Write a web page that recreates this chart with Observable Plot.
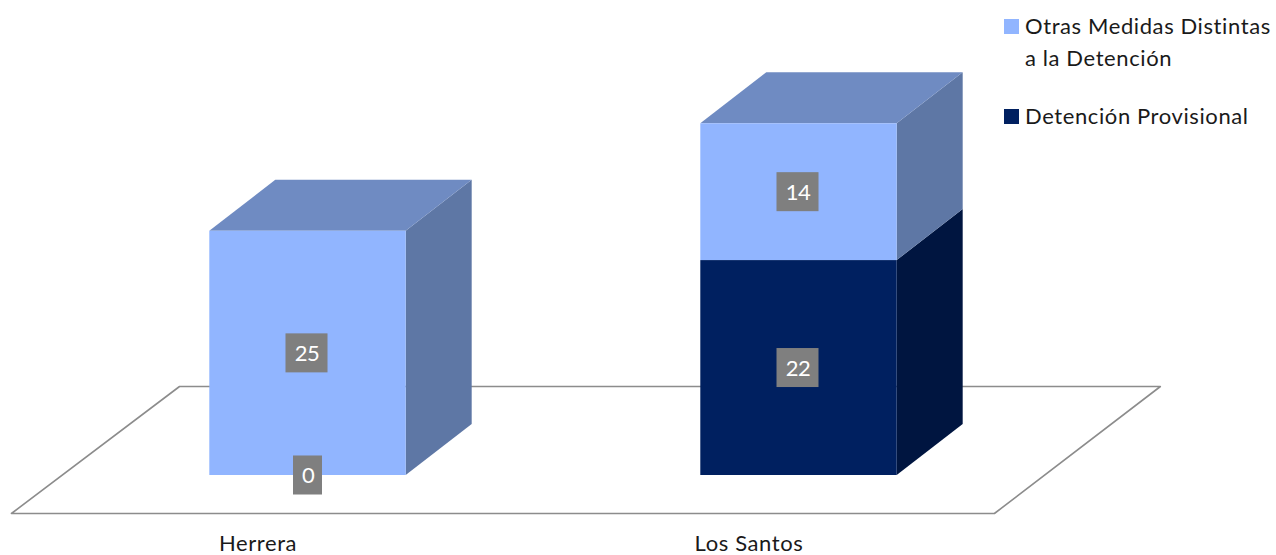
<!DOCTYPE html>
<html lang="es">
<head>
<meta charset="utf-8">
<script src="https://cdn.jsdelivr.net/npm/d3@7"></script>
<script src="https://cdn.jsdelivr.net/npm/@observablehq/plot@0.6"></script>
<style>
html,body{margin:0;padding:0;background:#fff}
#wrap{position:relative;width:1276px;height:555px;overflow:hidden;font-family:Lato,sans-serif}
#legend{position:absolute;left:0;top:0;width:1276px;height:140px;pointer-events:none;color:#1a1a1a;font-size:22px;letter-spacing:.6px}
#legend i{position:absolute;left:1004px;width:15px;height:15px}
#legend span{position:absolute;left:1025px;white-space:nowrap;line-height:26px}
#chart g[aria-label="x-axis tick label"] text{letter-spacing:.6px}
#chart g[aria-label="text"] text{letter-spacing:-.6px}
</style>
</head>
<body>
<div id="wrap">
<div id="chart"></div>
<div id="legend"></div>
</div>
<script>
const categories = ["Herrera", "Los Santos"];
const seriesNames = ["Detención Provisional", "Otras Medidas Distintas a la Detención"];
const detencion = [0, 22];
const otras = [25, 14];

const lightFront = "#91B5FF", lightSide = "#5E77A5", lightTop = "#6F8BC2";
const darkFront = "#002060", darkSide = "#001540";
const gridGrey = "#8c8c8c", boxGrey = "#7f7f7f";

// chart-space constants: x in category units, y in value units
const barHalf = 0.2, depthX = 0.1344, depthY = 5.22;
const floorX = [-0.2617, 1.736, 1.398, -0.604, -0.2617];
const floorY = [9.11, 9.11, -3.89, -3.89, 9.11];
const labelShift = v => (String(v).length > 1 ? -1 / 491 : 0);

const segments = [];
categories.forEach((c, i) => {
  if (detencion[i] > 0) segments.push({i, y0: 0, y1: detencion[i], v: detencion[i], front: darkFront, side: darkSide});
  segments.push({i, y0: detencion[i], y1: detencion[i] + otras[i], v: otras[i], front: lightFront, side: lightSide, top: true});
});
const labels = [];
categories.forEach((c, i) => {
  labels.push({i, y: detencion[i] / 2, v: detencion[i]});
  labels.push({i, y: detencion[i] + otras[i] / 2, v: otras[i]});
});

const sideRows = segments.flatMap((s, k) => [
  {k, fill: s.side, x: s.i + barHalf, y1: s.y0, y2: s.y1},
  {k, fill: s.side, x: s.i + barHalf + depthX, y1: s.y0 + depthY, y2: s.y1 + depthY}
]);
const topRows = segments.filter(s => s.top).flatMap((s, k) => [
  {k, y: s.y1, x1: s.i - barHalf, x2: s.i + barHalf},
  {k, y: s.y1 + depthY, x1: s.i - barHalf + depthX, x2: s.i + barHalf + depthX}
]);
const boxHalfX = v => (String(v).length > 1 ? 21 : 14.5) / 491;
const boxHalfY = 19.5 / 9.77;

const chart = Plot.plot({
  width: 1276,
  height: 555,
  margin: 0,
  marginBottom: 20,
  x: {type: "linear", axis: null, domain: [-307.5 / 491, (1276 - 307.5) / 491], range: [0, 1276]},
  y: {type: "linear", axis: null, domain: [-60 / 9.77, 475 / 9.77], range: [535, 0]},
  style: {fontFamily: "Lato, sans-serif", background: "#fff"},
  marks: [
    Plot.line(floorX.map((x, j) => ({x, y: floorY[j]})), {x: "x", y: "y", stroke: gridGrey, strokeWidth: 1.6}),
    Plot.areaY(sideRows, {x: "x", y1: "y1", y2: "y2", z: "k", fill: "fill"}),
    Plot.areaX(topRows, {y: "y", x1: "x1", x2: "x2", z: "k", fill: lightTop}),
    Plot.rect(segments, {
      x1: s => s.i - barHalf, x2: s => s.i + barHalf,
      y1: "y0", y2: "y1", fill: "front"
    }),
    Plot.rect(labels, {
      x1: d => d.i + labelShift(d.v) - boxHalfX(d.v), x2: d => d.i + labelShift(d.v) + boxHalfX(d.v),
      y1: d => d.y - boxHalfY, y2: d => d.y + boxHalfY, fill: boxGrey
    }),
    Plot.text(labels, {x: d => d.i + labelShift(d.v), y: "y", text: d => String(d.v), fill: "#fff", fontSize: 22, dy: 0.5}),
    Plot.axisX({
      ticks: [0, 1], tickFormat: i => categories[i], tickSize: 0, tickPadding: 0,
      label: null, fontSize: 22, dx: -50, dy: -0.5, fill: "#1a1a1a"
    })
  ]
});
document.getElementById("chart").append(chart);

const legend = document.getElementById("legend");
const addSwatch = (top, color) => {
  const el = document.createElement("i");
  el.style.top = top + "px"; el.style.background = color;
  legend.append(el);
};
const addLine = (top, text) => {
  const el = document.createElement("span");
  el.style.top = top + "px"; el.textContent = text;
  legend.append(el);
};
addSwatch(19, lightFront);
addLine(13, "Otras Medidas Distintas");
addLine(45, "a la Detención");
addSwatch(109, darkFront);
addLine(103, seriesNames[0]);
</script>
</body>
</html>
